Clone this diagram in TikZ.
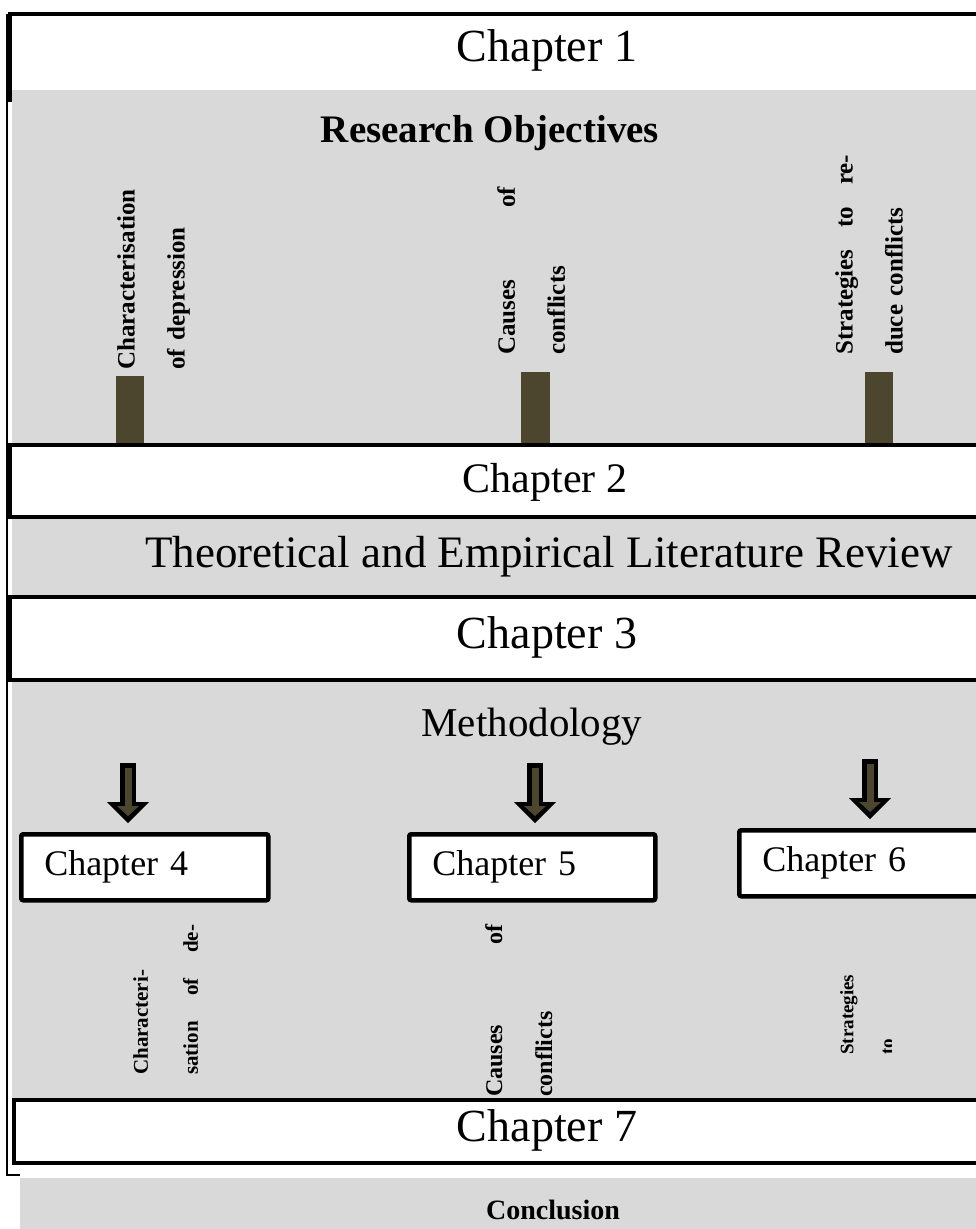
\documentclass[tikz,border=0pt]{standalone}
\usepackage{fontspec}
\setmainfont{Liberation Serif}
\usetikzlibrary{arrows.meta}
\definecolor{bandgrey}{RGB}{217,217,217}
\definecolor{barolive}{RGB}{76,70,46}
\tikzset{
    chapbar/.style={draw=black, line width=4.5pt, fill=white},
    bigtext/.style={inner sep=0pt, font=\fontsize{#1}{#1}\selectfont},
    boldtext/.style={inner sep=0pt, font=\bfseries\fontsize{#1}{#1}\selectfont},
    objcol/.style={rotate=90, anchor=north west, inner sep=0pt, align=left, text width=#1,
        font=\bfseries\fontsize{25}{50}\selectfont},
    subchap/.style={draw=black, line width=4.5pt, fill=white, rounded corners=2pt, anchor=north west,
        inner xsep=23pt, inner ysep=0pt, minimum height=66pt, text width=#1, align=left,
        font=\fontsize{36}{36}\selectfont},
    arrowout/.style={line width=16pt, -{Triangle[width=42pt,length=21pt,line width=0pt]}},
    arrowin/.style={barolive, line width=7pt, shorten >=7pt, -{Triangle[width=22pt,length=10pt,line width=0pt]}},
}

\begin{document}
\begin{tikzpicture}[x=1pt,y=-1pt]
    \useasboundingbox (0,0) rectangle (976,1229);
    \clip (0,0) rectangle (976,1229);
    \draw[chapbar] (10,14) rectangle (1000,100);
    \fill[bandgrey] (12,90) rectangle (990,445);
    \fill[barolive] (116,376) rectangle (144,445);
    \fill[barolive] (521,372) rectangle (550,445);
    \fill[barolive] (865,372) rectangle (893,445);
    \fill[bandgrey] (12,517) rectangle (990,597);
    \fill[bandgrey] (12,680) rectangle (990,1100);
    \draw[chapbar] (10,445) rectangle (1000,517);
    \draw[chapbar] (10,597) rectangle (1000,680);
    \draw[chapbar] (14,1100) rectangle (1000,1163);
    \draw[line width=2.5pt] (7,14) -- (7,1175) -- (20,1175);
    \fill[bandgrey] (20,1178) rectangle (990,1229);

    \node[bigtext=46] (chap1) at (547,50) {Chapter 1};
    \node[boldtext=39] (objectives) at (490,133) {Research Objectives};
    \node[objcol=183pt] (obj1) at (117,370) {Characterisation\\of depression};
    \node[objcol=168pt] (obj2) at (497,355) {Causes\hfill of\\conflicts};
    \node[objcol=200pt] (obj3) at (835,355) {Strategies\hfill to\hfill re-\\duce conflicts};
    \node[bigtext=42] (chap2) at (545,482) {Chapter 2};
    \node[bigtext=45] (review) at (549,557) {Theoretical and Empirical Literature Review};
    \node[bigtext=46] (chap3) at (547,637) {Chapter 3};
    \node[bigtext=41] (method) at (532,727) {Methodology};

    \node[subchap=201pt] (chap4) at (19,832) {Chapter 4};
    \node[subchap=200pt] (chap5) at (407,832) {Chapter 5};
    \node[subchap=260pt] (chap6) at (737,828) {Chapter 6};
    \coordinate (a4) at (128,763);
    \coordinate (b4) at (128,823);
    \coordinate (a5) at (535,763);
    \coordinate (b5) at (535,823);
    \coordinate (a6) at (870,759);
    \coordinate (b6) at (870,819);
    \foreach \n in {4,5,6} {
        \draw[arrowout] (a\n) -- (b\n);
        \draw[arrowin] ([yshift=-5pt]a\n) -- (b\n);
    }

    \node[objcol=150pt, font=\bfseries\fontsize{21}{50}\selectfont] (res4) at (133,1075) {Characteri-\\sation\hfill of\hfill de-};
    \node[objcol=172pt, font=\bfseries\fontsize{24}{50}\selectfont] (res5) at (485,1097) {Causes\hfill of\\conflicts};
    \begin{scope}
        \clip (0,0) rectangle (891,1229);
        \node[objcol=100pt, font=\bfseries\fontsize{19}{40}\selectfont] (res6) at (840,1055) {Strategies\\to};
    \end{scope}
    \node[bigtext=46] (chap7) at (547,1130) {Chapter 7};
    \node[boldtext=28] (conclusion) at (553,1210) {Conclusion};
\end{tikzpicture}
\end{document}
